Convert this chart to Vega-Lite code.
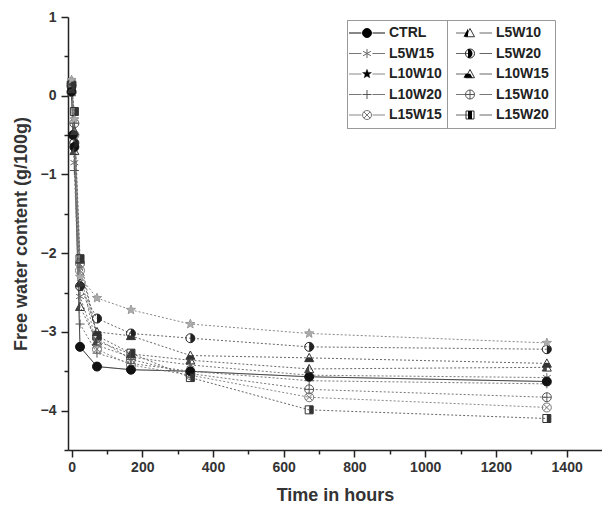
{
  "$schema": "https://vega.github.io/schema/vega-lite/v6.json",
  "width": 534,
  "height": 433,
  "autosize": {"type": "none"},
  "padding": {"left": 68, "top": 17, "right": 0, "bottom": 60},
  "background": "white",
  "config": {"view": {"stroke": null}},
  "data": {"values": [
    {"s":"CTRL","t":0,"v":0.05},{"s":"CTRL","t":4,"v":-0.5},{"s":"CTRL","t":8,"v":-0.65},{"s":"CTRL","t":24,"v":-3.19},{"s":"CTRL","t":72,"v":-3.44},{"s":"CTRL","t":168,"v":-3.48},{"s":"CTRL","t":336,"v":-3.5},{"s":"CTRL","t":672,"v":-3.57},{"s":"CTRL","t":1344,"v":-3.63},
    {"s":"L5W10","t":0,"v":0.18},{"s":"L5W10","t":8,"v":-0.7},{"s":"L5W10","t":24,"v":-2.68},{"s":"L5W10","t":72,"v":-3.12},{"s":"L5W10","t":168,"v":-3.28},{"s":"L5W10","t":336,"v":-3.36},{"s":"L5W10","t":672,"v":-3.47},{"s":"L5W10","t":1344,"v":-3.45},
    {"s":"L5W15","t":0,"v":0.1},{"s":"L5W15","t":8,"v":-0.85},{"s":"L5W15","t":24,"v":-2.55},{"s":"L5W15","t":72,"v":-3.17},{"s":"L5W15","t":168,"v":-3.32},{"s":"L5W15","t":336,"v":-3.42},{"s":"L5W15","t":672,"v":-3.55},{"s":"L5W15","t":1344,"v":-3.58},
    {"s":"L5W20","t":0,"v":0.12},{"s":"L5W20","t":8,"v":-0.6},{"s":"L5W20","t":24,"v":-2.42},{"s":"L5W20","t":72,"v":-2.83},{"s":"L5W20","t":168,"v":-3.02},{"s":"L5W20","t":336,"v":-3.08},{"s":"L5W20","t":672,"v":-3.19},{"s":"L5W20","t":1344,"v":-3.22},
    {"s":"L10W10","t":0,"v":0.2},{"s":"L10W10","t":8,"v":-0.3},{"s":"L10W10","t":24,"v":-2.3},{"s":"L10W10","t":72,"v":-2.57},{"s":"L10W10","t":168,"v":-2.72},{"s":"L10W10","t":336,"v":-2.9},{"s":"L10W10","t":672,"v":-3.02},{"s":"L10W10","t":1344,"v":-3.14},
    {"s":"L10W15","t":0,"v":0.08},{"s":"L10W15","t":8,"v":-0.45},{"s":"L10W15","t":24,"v":-2.38},{"s":"L10W15","t":72,"v":-3.0},{"s":"L10W15","t":168,"v":-3.05},{"s":"L10W15","t":336,"v":-3.3},{"s":"L10W15","t":672,"v":-3.33},{"s":"L10W15","t":1344,"v":-3.4},
    {"s":"L10W20","t":0,"v":0.0},{"s":"L10W20","t":8,"v":-0.95},{"s":"L10W20","t":24,"v":-2.9},{"s":"L10W20","t":72,"v":-3.27},{"s":"L10W20","t":168,"v":-3.4},{"s":"L10W20","t":336,"v":-3.5},{"s":"L10W20","t":672,"v":-3.62},{"s":"L10W20","t":1344,"v":-3.66},
    {"s":"L15W10","t":0,"v":0.15},{"s":"L15W10","t":8,"v":-0.35},{"s":"L15W10","t":24,"v":-2.13},{"s":"L15W10","t":72,"v":-3.08},{"s":"L15W10","t":168,"v":-3.35},{"s":"L15W10","t":336,"v":-3.53},{"s":"L15W10","t":672,"v":-3.73},{"s":"L15W10","t":1344,"v":-3.83},
    {"s":"L15W15","t":0,"v":0.17},{"s":"L15W15","t":8,"v":-0.5},{"s":"L15W15","t":24,"v":-2.22},{"s":"L15W15","t":72,"v":-3.22},{"s":"L15W15","t":168,"v":-3.42},{"s":"L15W15","t":336,"v":-3.55},{"s":"L15W15","t":672,"v":-3.83},{"s":"L15W15","t":1344,"v":-3.96},
    {"s":"L15W20","t":0,"v":0.13},{"s":"L15W20","t":8,"v":-0.2},{"s":"L15W20","t":24,"v":-2.07},{"s":"L15W20","t":72,"v":-3.05},{"s":"L15W20","t":168,"v":-3.27},{"s":"L15W20","t":336,"v":-3.58},{"s":"L15W20","t":672,"v":-3.99},{"s":"L15W20","t":1344,"v":-4.1}
  ]},
  "resolve": {
    "scale": {"shape": "independent", "stroke": "independent"},
    "axis": {"x": "independent", "y": "independent"}
  },
  "layer": [
    {
      "mark": {"type": "line", "strokeWidth": 1},
      "encoding": {
        "x": {"field": "t", "type": "quantitative", "scale": {"domain": [-10, 1500], "nice": false, "zero": false},
          "axis": {"orient": "bottom", "values": [0, 200, 400, 600, 800, 1000, 1200, 1400], "format": "d", "grid": false, "title": "Time in hours",
            "titleFont": "Liberation Sans", "titleFontWeight": "bold", "titleFontSize": 18, "titleColor": "#333", "titlePadding": 12,
            "labelFont": "Liberation Sans", "labelFontWeight": "bold", "labelFontSize": 14, "labelColor": "#333", "labelPadding": 3,
            "tickSize": 7, "tickWidth": 1.5, "tickColor": "#222", "domainColor": "#222", "domainWidth": 1.5}},
        "y": {"field": "v", "type": "quantitative", "scale": {"domain": [-4.5, 1], "nice": false, "zero": false},
          "axis": {"orient": "left", "values": [-4, -3, -2, -1, 0, 1], "grid": false, "title": "Free water content (g/100g)",
            "titleFont": "Liberation Sans", "titleFontWeight": "bold", "titleFontSize": 18, "titleColor": "#333", "titlePadding": 10,
            "labelFont": "Liberation Sans", "labelFontWeight": "bold", "labelFontSize": 14, "labelColor": "#333", "labelPadding": 5,
            "tickSize": 7, "tickWidth": 1.5, "tickColor": "#222", "domainColor": "#222", "domainWidth": 1.5}},
        "strokeDash": {"field": "s", "type": "nominal",
          "scale": {"domain": ["CTRL","L5W10","L5W15","L5W20","L10W10","L10W15","L10W20","L15W10","L15W15","L15W20"],
            "range": [[1,0],[2,2],[2,2],[2,2],[2,2],[2,2],[2,2],[2,2],[2,2],[2,2]]},
          "legend": {"title": null, "orient": "none", "legendX": 279, "legendY": 3, "columns": 2, "direction": "horizontal", "symbolSize": 100,
            "symbolType": "M-3.6,0H-1.1M1.1,0H3.6", "symbolStrokeWidth": 1, "symbolOffset": 7, "labelOffset": 15,
            "labelFont": "Liberation Sans", "labelFontWeight": "bold", "labelFontSize": 14, "labelColor": "#222",
            "rowPadding": 6.5, "columnPadding": 12, "padding": 6, "labelLimit": 200,
            "strokeColor": "#999"}},
        "stroke": {"field": "s", "type": "nominal",
          "scale": {"domain": ["CTRL","L5W10","L5W15","L5W20","L10W10","L10W15","L10W20","L15W10","L15W15","L15W20"],
            "range": ["#111","#666","#777","#666","#888","#666","#777","#777","#888","#666"]},
          "legend": {"title": null, "orient": "none", "legendX": 279, "legendY": 3, "columns": 2, "direction": "horizontal", "symbolSize": 100,
            "symbolType": "M-3.6,0H-1.1M1.1,0H3.6", "symbolStrokeWidth": 1, "symbolOffset": 7, "labelOffset": 15,
            "labelFont": "Liberation Sans", "labelFontWeight": "bold", "labelFontSize": 14, "labelColor": "#222",
            "rowPadding": 6.5, "columnPadding": 12, "padding": 6, "labelLimit": 200,
            "strokeColor": "#999"}}
      }
    },
    {
      "mark": {"type": "point", "filled": false, "strokeWidth": 1, "size": 100, "opacity": 1},
      "encoding": {
        "x": {"field": "t", "type": "quantitative",
          "axis": {"orient": "bottom", "values": [100, 300, 500, 700, 900, 1100, 1300], "labels": false, "domain": false, "grid": false, "title": null,
            "tickSize": 4, "tickWidth": 1.5, "tickColor": "#222"}},
        "y": {"field": "v", "type": "quantitative",
          "axis": {"orient": "left", "values": [-4.5, -3.5, -2.5, -1.5, -0.5, 0.5], "labels": false, "domain": false, "grid": false, "title": null,
            "tickSize": 4, "tickWidth": 1.5, "tickColor": "#222"}},
        "shape": {"field": "s", "type": "nominal",
          "scale": {"domain": ["CTRL","L5W10","L5W15","L5W20","L10W10","L10W15","L10W20","L15W10","L15W15","L15W20"],
            "range": [
              "M-3.6,0L-3.6,0M3.6,0L3.6,0M0.9,0A0.9,0.9 0 1,1 -0.9,0A0.9,0.9 0 1,1 0.9,0Z",
              "M-3.6,0L-3.6,0M3.6,0L3.6,0M0,-0.9L0.9,0.75L-0.9,0.75Z",
              "M-3.6,0L-3.6,0M3.6,0L3.6,0M0,-0.9V0.9M-0.78,-0.45L0.78,0.45M-0.78,0.45L0.78,-0.45",
              "M-3.6,0L-3.6,0M3.6,0L3.6,0M0.9,0A0.9,0.9 0 1,1 -0.9,0A0.9,0.9 0 1,1 0.9,0Z",
              "M-3.6,0L-3.6,0M3.6,0L3.6,0M0,-0.95L0.235,-0.324L0.903,-0.294L0.38,0.124L0.558,0.769L0,0.4L-0.558,0.769L-0.38,0.124L-0.903,-0.294L-0.235,-0.324Z",
              "M-3.6,0L-3.6,0M3.6,0L3.6,0M0,-0.9L0.9,0.75L-0.9,0.75Z",
              "M-3.6,0L-3.6,0M3.6,0L3.6,0M0,-0.9V0.9M-0.9,0H0.9",
              "M-3.6,0L-3.6,0M3.6,0L3.6,0M0.9,0A0.9,0.9 0 1,1 -0.9,0A0.9,0.9 0 1,1 0.9,0ZM0,-0.9V0.9M-0.9,0H0.9",
              "M-3.6,0L-3.6,0M3.6,0L3.6,0M0.9,0A0.9,0.9 0 1,1 -0.9,0A0.9,0.9 0 1,1 0.9,0ZM-0.64,-0.64L0.64,0.64M-0.64,0.64L0.64,-0.64",
              "M-3.6,0L-3.6,0M3.6,0L3.6,0M-0.8,-0.8H0.8V0.8H-0.8Z"
            ]},
          "legend": {"title": null, "orient": "none", "legendX": 279, "legendY": 3, "columns": 2, "direction": "horizontal", "symbolSize": 100,
            "symbolStrokeWidth": 1, "symbolOffset": 7, "labelOffset": 15, "symbolFillColor": "transparent", "labelExpr": "' '",
            "labelFont": "Liberation Sans", "labelFontWeight": "bold", "labelFontSize": 14, "labelColor": "#222", "labelOpacity": 0,
            "rowPadding": 6.5, "columnPadding": 61, "padding": 6, "labelLimit": 200}},
        "stroke": {"field": "s", "type": "nominal",
          "scale": {"domain": ["CTRL","L5W10","L5W15","L5W20","L10W10","L10W15","L10W20","L15W10","L15W15","L15W20"],
            "range": ["#111","#333","#666","#222","#888","#333","#555","#555","#777","#333"]},
          "legend": {"title": null, "orient": "none", "legendX": 279, "legendY": 3, "columns": 2, "direction": "horizontal", "symbolSize": 100,
            "symbolStrokeWidth": 1, "symbolOffset": 7, "labelOffset": 15, "symbolFillColor": "transparent", "labelExpr": "' '",
            "labelFont": "Liberation Sans", "labelFontWeight": "bold", "labelFontSize": 14, "labelColor": "#222", "labelOpacity": 0,
            "rowPadding": 6.5, "columnPadding": 61, "padding": 6, "labelLimit": 200}}
      }
    },
    {
      "mark": {"type": "point", "filled": true, "strokeWidth": 0, "size": 100, "opacity": 1},
      "encoding": {
        "x": {"field": "t", "type": "quantitative", "axis": null},
        "y": {"field": "v", "type": "quantitative", "axis": null},
        "shape": {"field": "s", "type": "nominal",
          "scale": {"domain": ["CTRL","L5W10","L5W15","L5W20","L10W10","L10W15","L10W20","L15W10","L15W15","L15W20"],
            "range": [
              "M-3.6,0L-3.6,0M3.6,0L3.6,0M0.9,0A0.9,0.9 0 1,1 -0.9,0A0.9,0.9 0 1,1 0.9,0Z",
              "M-3.6,0L-3.6,0M3.6,0L3.6,0M0,-0.9L0,0.75L-0.9,0.75Z",
              "M-3.6,0L-3.6,0M3.6,0L3.6,0",
              "M-3.6,0L-3.6,0M3.6,0L3.6,0M0,-0.9A0.9,0.9 0 0,1 0,0.9Z",
              "M-3.6,0L-3.6,0M3.6,0L3.6,0M0,-0.95L0.235,-0.324L0.903,-0.294L0.38,0.124L0.558,0.769L0,0.4L-0.558,0.769L-0.38,0.124L-0.903,-0.294L-0.235,-0.324Z",
              "M-3.6,0L-3.6,0M3.6,0L3.6,0M-0.45,-0.075L0.45,-0.075L0.9,0.75L-0.9,0.75Z",
              "M-3.6,0L-3.6,0M3.6,0L3.6,0",
              "M-3.6,0L-3.6,0M3.6,0L3.6,0",
              "M-3.6,0L-3.6,0M3.6,0L3.6,0",
              "M-3.6,0L-3.6,0M3.6,0L3.6,0M0,-0.8H0.8V0.8H0Z"
            ]},
          "legend": {"title": null, "orient": "none", "legendX": 279, "legendY": 3, "columns": 2, "direction": "horizontal", "symbolSize": 100,
            "symbolStrokeWidth": 0, "symbolOffset": 7, "labelOffset": 15, "labelExpr": "' '",
            "labelFont": "Liberation Sans", "labelFontWeight": "bold", "labelFontSize": 14, "labelColor": "#222", "labelOpacity": 0,
            "rowPadding": 6.5, "columnPadding": 61, "padding": 6, "labelLimit": 200,
            "encode": {"symbols": {"update": {"fill": {"scale": "fill", "field": "value"}}}}}},
        "fill": {"field": "s", "type": "nominal",
          "scale": {"domain": ["CTRL","L5W10","L5W15","L5W20","L10W10","L10W15","L10W20","L15W10","L15W15","L15W20"],
            "range": ["#111","#444","#ffffff","#222","#aaaaaa","#333","#ffffff","#ffffff","#ffffff","#333"]},
          "legend": {"title": null, "orient": "none", "legendX": 279, "legendY": 3, "columns": 2, "direction": "horizontal", "symbolSize": 100,
            "symbolStrokeWidth": 0, "symbolOffset": 7, "labelOffset": 15, "labelExpr": "' '",
            "labelFont": "Liberation Sans", "labelFontWeight": "bold", "labelFontSize": 14, "labelColor": "#222", "labelOpacity": 0,
            "rowPadding": 6.5, "columnPadding": 61, "padding": 6, "labelLimit": 200,
            "encode": {"symbols": {"update": {"fill": {"scale": "fill", "field": "value"}}}}}}
      }
    }
  ]
}
